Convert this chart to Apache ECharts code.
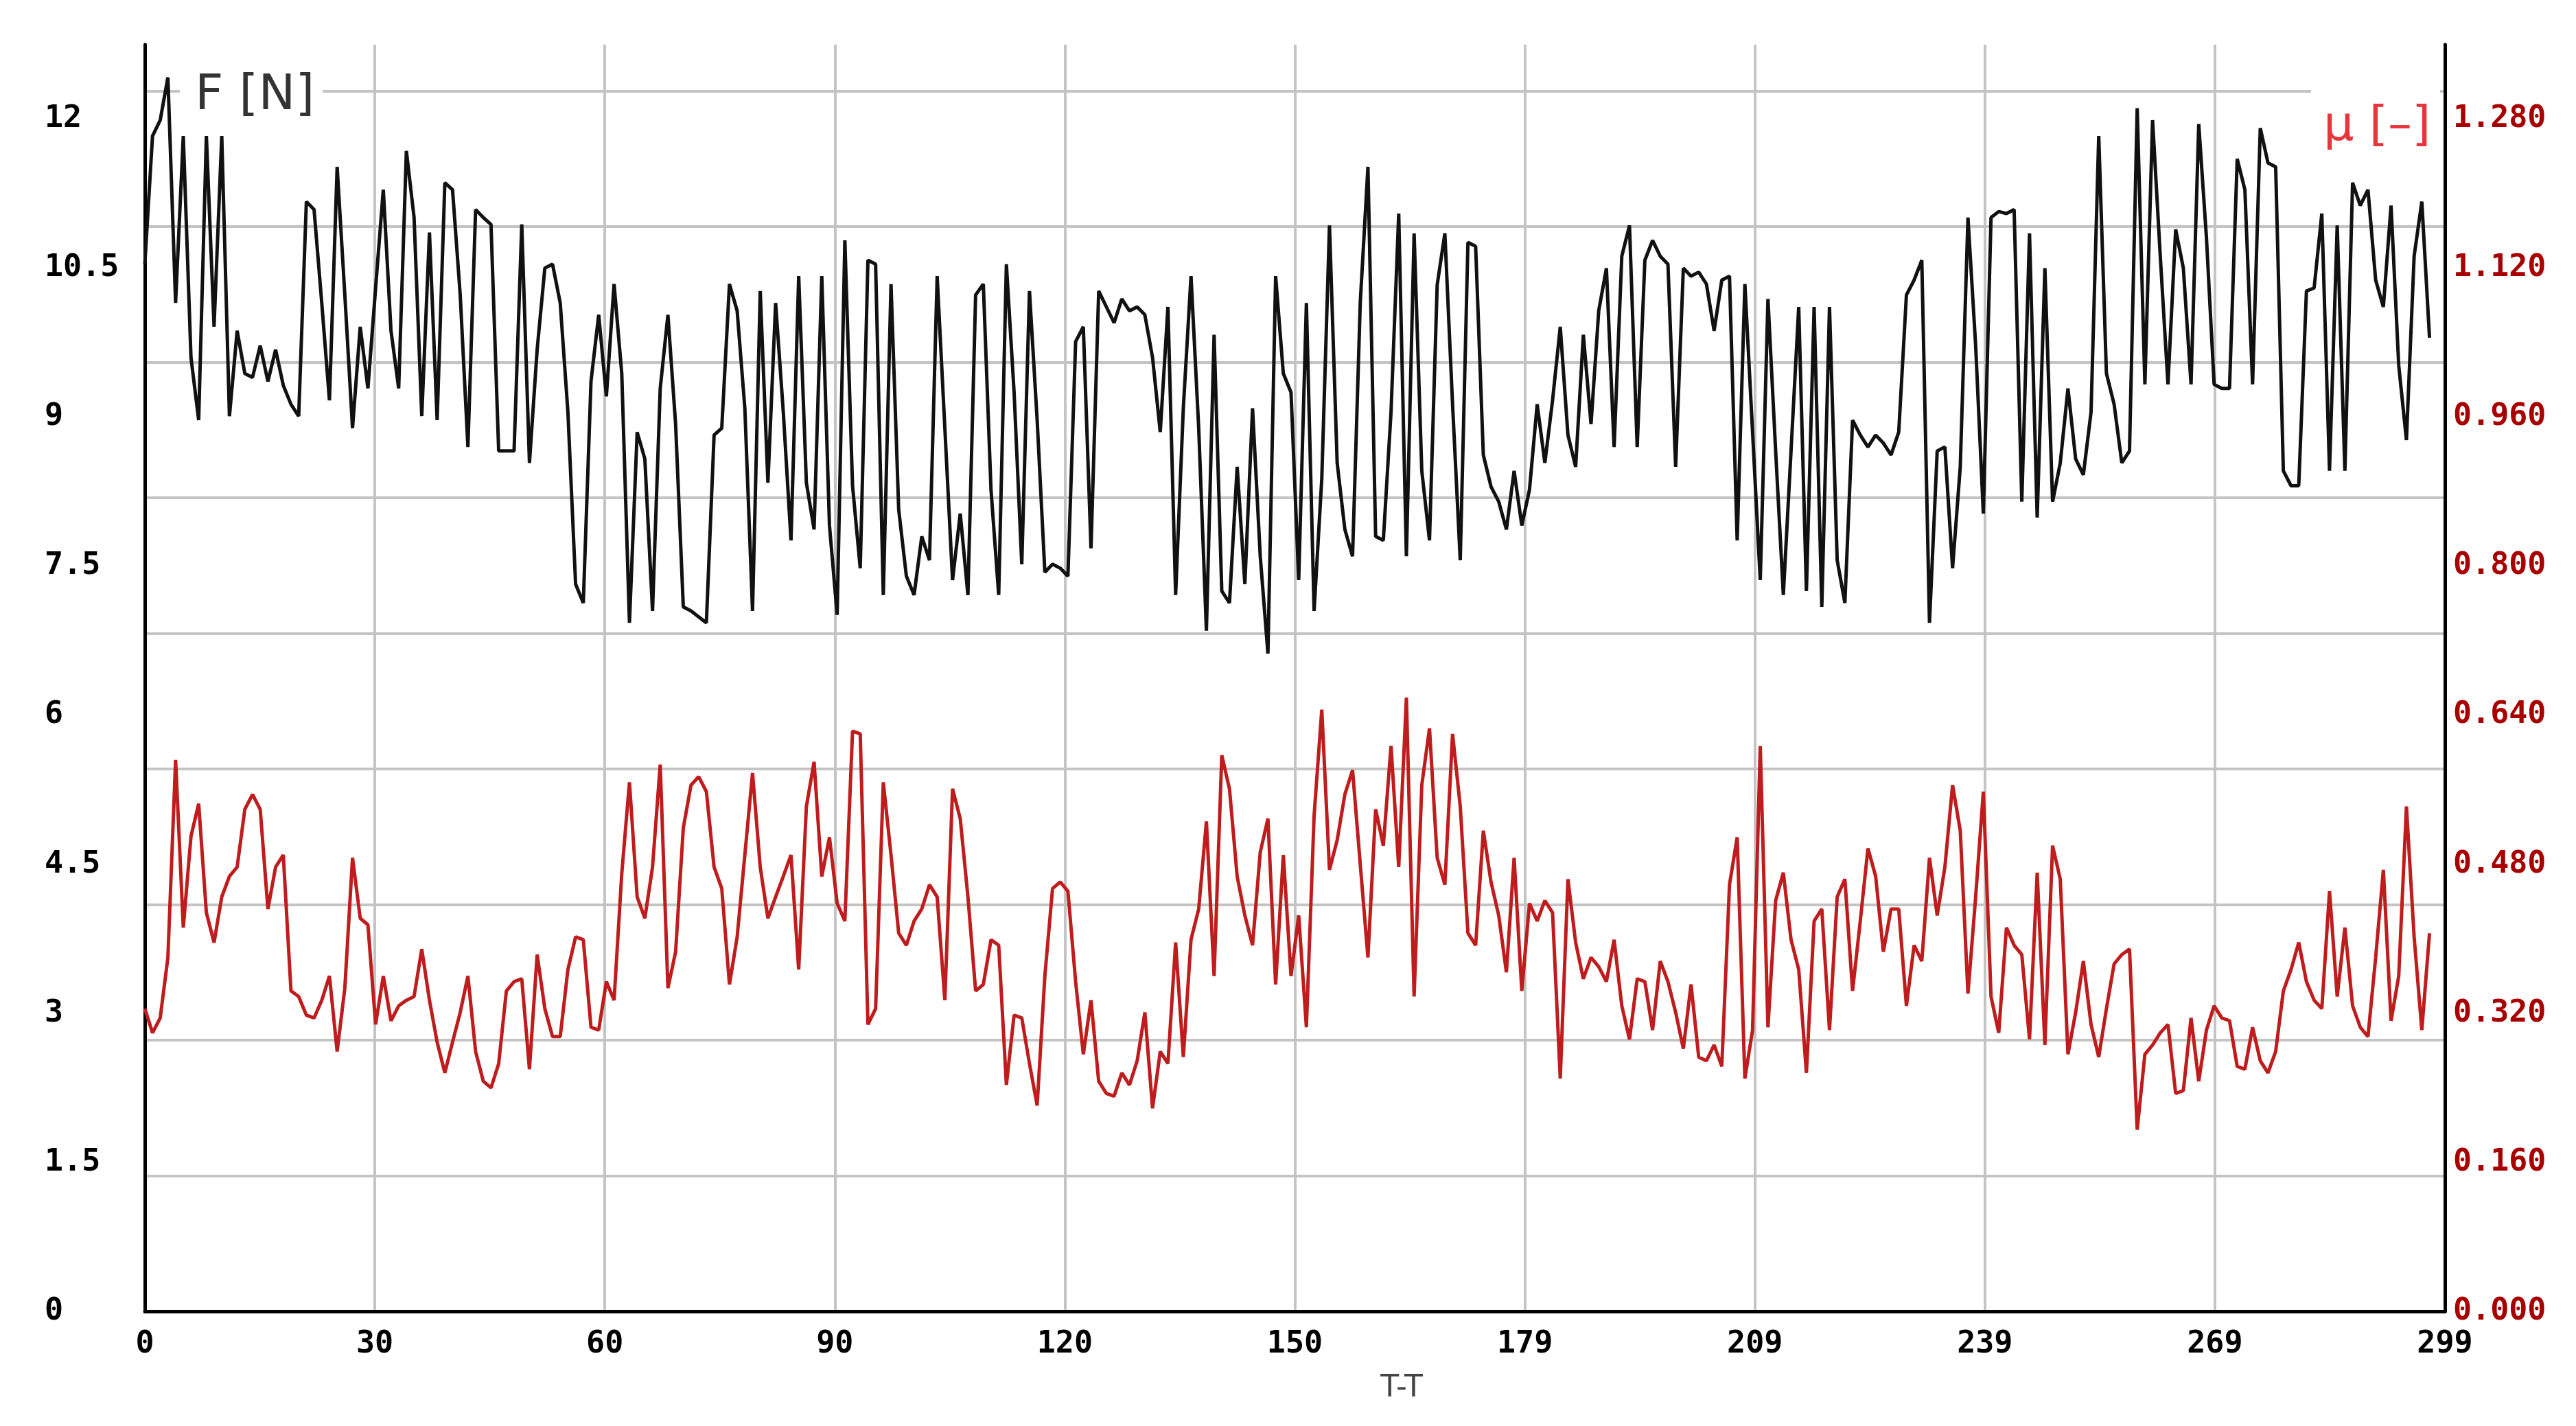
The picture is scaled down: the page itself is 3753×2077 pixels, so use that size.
<!DOCTYPE html>
<html>
<head>
<meta charset="utf-8">
<script src="https://cdn.jsdelivr.net/npm/echarts@6/dist/echarts.min.js"></script>
<style>
html,body{margin:0;padding:0;background:#fff;}
#chart{width:3753px;height:2077px;}
</style>
</head>
<body>
<div id="chart"></div>
<script>
// Force F [N] (left axis), sample index 0..297
const F_VALUES = [
10.54,11.83,11.99,12.42,10.15,11.83,9.6,8.97,11.83,9.91,
11.83,9.01,9.87,9.44,9.4,9.72,9.36,9.68,9.32,9.13,
9.01,11.17,11.09,10.15,9.17,11.52,10.23,8.89,9.91,9.29,
10.3,11.29,9.87,9.29,11.68,11.01,9.01,10.86,8.97,11.36,
11.29,10.23,8.7,11.09,11.01,10.94,8.66,8.66,8.66,10.94,
8.54,9.68,10.5,10.54,10.15,9.05,7.32,7.13,9.36,10.03,
9.21,10.34,9.44,6.93,8.85,8.58,7.05,9.29,10.03,8.93,
7.09,7.05,6.99,6.93,8.82,8.89,10.34,10.07,9.09,7.05,
10.27,8.34,10.15,9.05,7.76,10.42,8.34,7.87,10.42,7.91,
7.01,10.78,8.31,7.48,10.58,10.54,7.21,10.34,8.07,7.4,
7.21,7.8,7.56,10.42,8.89,7.36,8.03,7.21,10.23,10.34,
8.27,7.21,10.54,9.25,7.52,10.27,8.97,7.44,7.52,7.48,
7.4,9.76,9.91,7.68,10.27,10.11,9.95,10.19,10.07,10.11,
10.03,9.6,8.85,10.11,7.21,9.09,10.42,8.89,6.85,9.83,
7.25,7.13,8.5,7.32,9.09,7.6,6.62,10.42,9.44,9.25,
7.36,10.15,7.05,8.38,10.93,8.54,7.87,7.6,10.15,11.52,
7.8,7.76,9.05,11.05,7.6,10.85,8.46,7.76,10.33,10.85,
9.13,7.56,10.76,10.72,8.62,8.3,8.15,7.87,8.46,7.91,
8.27,9.13,8.54,9.17,9.91,8.82,8.5,9.83,8.93,10.07,
10.5,8.7,10.62,10.93,8.7,10.58,10.78,10.62,10.54,8.5,
10.5,10.42,10.46,10.34,9.87,10.38,10.42,7.76,10.34,8.85,
7.36,10.19,8.66,7.21,8.66,10.11,7.25,10.11,7.09,10.11,
7.56,7.13,8.97,8.82,8.7,8.82,8.74,8.62,8.85,10.23,
10.38,10.58,6.93,8.66,8.7,7.48,8.5,11.01,9.72,8.03,
11.01,11.07,11.05,11.09,8.15,10.85,7.99,10.5,8.15,8.54,
9.29,8.58,8.42,9.05,11.83,9.44,9.13,8.54,8.66,12.11,
9.33,11.99,10.62,9.33,10.89,10.5,9.33,11.95,10.81,9.33,
9.29,9.29,11.6,11.29,9.33,11.91,11.56,11.52,8.46,8.31,
8.31,10.27,10.3,11.05,8.46,10.93,8.46,11.36,11.13,11.29,
10.38,10.11,11.13,9.52,8.77,10.62,11.17,9.8
];
// Friction coefficient mu [-] (right axis)
const MU_VALUES = [
0.325,0.299,0.315,0.38,0.592,0.412,0.51,0.545,0.428,0.396,
0.445,0.467,0.477,0.539,0.555,0.539,0.432,0.477,0.49,0.344,
0.338,0.318,0.315,0.334,0.36,0.279,0.347,0.487,0.422,0.415,
0.308,0.36,0.312,0.328,0.334,0.338,0.389,0.334,0.289,0.256,
0.289,0.321,0.36,0.279,0.247,0.24,0.266,0.344,0.354,0.357,
0.26,0.383,0.325,0.295,0.295,0.367,0.402,0.399,0.305,0.302,
0.354,0.334,0.47,0.568,0.445,0.422,0.477,0.587,0.347,0.386,
0.519,0.565,0.574,0.558,0.477,0.454,0.351,0.402,0.49,0.578,
0.477,0.422,0.445,0.467,0.49,0.367,0.542,0.59,0.467,0.509,
0.438,0.419,0.623,0.62,0.308,0.325,0.568,0.49,0.406,0.393,
0.419,0.432,0.458,0.445,0.334,0.561,0.529,0.445,0.344,0.351,
0.399,0.393,0.243,0.318,0.315,0.266,0.221,0.36,0.454,0.461,
0.451,0.354,0.276,0.334,0.247,0.234,0.231,0.256,0.243,0.269,
0.321,0.218,0.279,0.266,0.396,0.273,0.399,0.432,0.526,0.36,
0.597,0.561,0.467,0.425,0.393,0.493,0.529,0.351,0.49,0.36,
0.425,0.305,0.532,0.646,0.474,0.506,0.555,0.581,0.48,0.38,
0.539,0.5,0.607,0.477,0.659,0.338,0.565,0.626,0.487,0.458,
0.62,0.542,0.406,0.393,0.516,0.461,0.425,0.364,0.487,0.344,
0.438,0.419,0.441,0.428,0.25,0.464,0.396,0.357,0.38,0.37,
0.354,0.399,0.328,0.292,0.357,0.354,0.302,0.376,0.354,0.321,
0.282,0.351,0.273,0.269,0.286,0.263,0.458,0.509,0.25,0.302,
0.607,0.305,0.441,0.471,0.399,0.367,0.256,0.419,0.432,0.302,
0.445,0.464,0.344,0.419,0.497,0.467,0.386,0.432,0.432,0.328,
0.393,0.376,0.487,0.425,0.477,0.565,0.516,0.341,0.445,0.558,
0.338,0.299,0.412,0.393,0.383,0.292,0.471,0.286,0.5,0.464,
0.276,0.321,0.376,0.308,0.273,0.325,0.373,0.383,0.389,0.195,
0.276,0.286,0.299,0.308,0.234,0.237,0.315,0.247,0.302,0.328,
0.315,0.312,0.263,0.26,0.305,0.269,0.256,0.279,0.344,0.367,
0.396,0.354,0.334,0.325,0.451,0.338,0.412,0.328,0.305,0.295,
0.38,0.474,0.312,0.36,0.542,0.402,0.302,0.406
];
const X_TICK_LABELS = ['0','30','60','90','120','150','179','209','239','269','299'];
const F_TICK_LABELS = ['0','1.5','3','4.5','6','7.5','9','10.5','12'];
const MU_TICK_LABELS = ['0.000','0.160','0.320','0.480','0.640','0.800','0.960','1.120','1.280'];

const X_STEP = 29.9, F_STEP = 1.5, MU_STEP = 0.16;
const tickFont = {fontFamily:'DejaVu Sans Mono', fontWeight:'bold', fontSize:45};

const chart = echarts.init(document.getElementById('chart'));
chart.setOption({
  animation:false,
  backgroundColor:'#ffffff',
  grid:{left:211, right:191, top:65, bottom:167},
  xAxis:{
    type:'value', min:0, max:299, interval:X_STEP,
    axisLine:{show:true, onZero:false, lineStyle:{color:'#000', width:5}},
    axisTick:{show:false},
    axisLabel:Object.assign({color:'#000', margin:26,
      formatter:v=>X_TICK_LABELS[Math.round(v/X_STEP)] ?? ''}, tickFont),
    splitLine:{show:true, lineStyle:{color:'#c4c4c4', width:4}}
  },
  yAxis:[
    {type:'value', position:'left', min:0, max:12.75, interval:F_STEP,
     axisLine:{show:true, lineStyle:{color:'#000', width:5}},
     axisTick:{show:false},
     axisLabel:Object.assign({color:'#000', align:'left', margin:146, showMaxLabel:false,
       formatter:v=>F_TICK_LABELS[Math.round(v/F_STEP)] ?? ''}, tickFont),
     splitLine:{show:false}},
    {type:'value', position:'right', min:0, max:1.36, interval:MU_STEP,
     axisLine:{show:true, lineStyle:{color:'#000', width:5}},
     axisTick:{show:false},
     axisLabel:Object.assign({color:'#a80000', margin:12, showMaxLabel:false,
       formatter:v=>MU_TICK_LABELS[Math.round(v/MU_STEP)] ?? ''}, tickFont),
     splitLine:{show:false}},
    {type:'value', position:'left', min:0, max:9.342, interval:1,
     axisLine:{show:false}, axisTick:{show:false}, axisLabel:{show:false},
     splitLine:{show:true, showMinLine:false, showMaxLine:false,
       lineStyle:{color:'#c4c4c4', width:4}}}
  ],
  series:[
    {name:'F [N]', type:'line', yAxisIndex:0, showSymbol:false, z:3,
     data:F_VALUES.map((v,i)=>[i,v]),
     lineStyle:{color:'#111', width:5}},
    {name:'μ [–]', type:'line', yAxisIndex:1, showSymbol:false, z:3,
     data:MU_VALUES.map((v,i)=>[i,v]),
     lineStyle:{color:'#bf1d1d', width:5}}
  ],
  graphic:[
    {type:'rect', z:1, shape:{x:262, y:100, width:208, height:80}, style:{fill:'#fff'}},
    {type:'text', z:2, x:284, y:140, style:{text:'F [N]', fill:'#333',
      font:'72px "DejaVu Sans"', textVerticalAlign:'middle'}},
    {type:'rect', z:1, shape:{x:3367, y:100, width:188, height:80}, style:{fill:'#fff'}},
    {type:'text', z:2, x:3385, y:186, style:{text:'μ [–]', fill:'#e8343a',
      font:'70px "DejaVu Sans"', textVerticalAlign:'middle'}},
    {type:'text', z:2, x:2042, y:2023, style:{text:'T-T', fill:'#444',
      font:'44px "DejaVu Sans"', textAlign:'center', textVerticalAlign:'middle'}}
  ]
});
</script>
</body>
</html>
